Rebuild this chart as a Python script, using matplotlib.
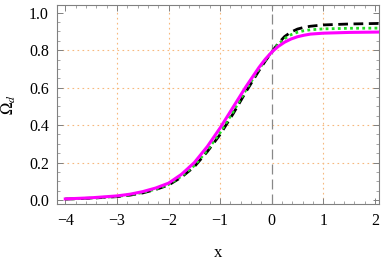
import numpy as np
import matplotlib
matplotlib.use("Agg")
import matplotlib.pyplot as plt
from matplotlib.ticker import MultipleLocator

plt.rcParams['font.family'] = ['Liberation Serif', 'DejaVu Serif']
plt.rcParams['mathtext.fontset'] = 'stix'

# values
x_mag = [-4.0, -3.5, -3.0, -2.75, -2.5, -2.25, -2.0, -1.75, -1.5, -1.25, -1.0, -0.75, -0.5, -0.25, -0.125,
         0.0, 0.125, 0.25, 0.375, 0.5, 0.625, 0.75, 1.0, 1.5, 2.1]
y_mag = [0.006, 0.012, 0.022, 0.031, 0.045, 0.064, 0.09, 0.137, 0.20, 0.285, 0.385, 0.495, 0.605, 0.707, 0.752,
         0.79, 0.82, 0.843, 0.86, 0.872, 0.88, 0.886, 0.891, 0.895, 0.897]

x_blk = [-4.0, -3.5, -3.0, -2.75, -2.5, -2.25, -2.0, -1.75, -1.5, -1.25, -1.0, -0.75, -0.5, -0.25, -0.125,
         0.0, 0.125, 0.25, 0.375, 0.5, 0.625, 0.75, 1.0, 1.5, 2.1]
y_blk = [0.005, 0.010, 0.018, 0.026, 0.038, 0.056, 0.08, 0.122, 0.178, 0.258, 0.35, 0.46, 0.578, 0.69, 0.742,
         0.79, 0.836, 0.873, 0.897, 0.913, 0.922, 0.928, 0.935, 0.940, 0.943]

x_grn = [-4.0, -3.5, -3.0, -2.75, -2.5, -2.25, -2.0, -1.75, -1.5, -1.25, -1.0, -0.75, -0.5, -0.25, -0.125,
         0.0, 0.125, 0.25, 0.375, 0.5, 0.625, 0.75, 1.0, 1.5, 2.1]
y_grn = [0.005, 0.010, 0.019, 0.028, 0.040, 0.058, 0.083, 0.127, 0.184, 0.265, 0.36, 0.47, 0.588, 0.698, 0.746,
         0.79, 0.832, 0.862, 0.883, 0.896, 0.904, 0.909, 0.914, 0.917, 0.918]

xticks = [-4, -3, -2, -1, 0, 1, 2]
yticks = [0.0, 0.2, 0.4, 0.6, 0.8, 1.0]
xgrid = [-3, -2, -1, 1]
ygrid = [0.2, 0.4, 0.6, 0.8]

fig = plt.figure(figsize=(3.82, 2.63), dpi=100)
ax = fig.add_axes([0.150, 0.223, 0.843, 0.757])

for v in xgrid:
    ax.axvline(v, color='#f7b87e', lw=0.8, ls=(0, (1.5, 3)), zorder=1)
for v in ygrid:
    ax.axhline(v, color='#f7b87e', lw=0.8, ls=(0, (1.5, 3)), zorder=1)
ax.axvline(0, color='#888888', lw=0.9, ls=(0, (8, 4)), zorder=2)

ax.plot(x_blk, y_blk, color='black', lw=2.0, ls=(0, (3.5, 2)), zorder=3)
ax.plot(x_grn, y_grn, color='#22dd22', lw=2.0, ls=(0, (1, 1.2)), zorder=4)
ax.plot(x_mag, y_mag, color='#ff00ff', lw=2.2, zorder=5)

ax.set_xlim(-4.155, 2.085)
ax.set_ylim(-0.023, 1.04)
ax.set_xticks(xticks)
ax.set_xticklabels(['\u22124', '\u22123', '\u22122', '\u22121', '0', '1', '2'])
ax.set_yticks(yticks)
ax.set_yticklabels(['0.0', '0.2', '0.4', '0.6', '0.8', '1.0'])
ax.xaxis.set_minor_locator(MultipleLocator(0.2))
ax.yaxis.set_minor_locator(MultipleLocator(0.05))

for s in ax.spines.values():
    s.set_color('#808080')
    s.set_linewidth(0.8)
ax.tick_params(which='both', direction='in', top=True, right=True, color='#808080', labelsize=11.5)
ax.tick_params(which='major', length=4, width=0.7, pad=6)
ax.tick_params(which='minor', length=2, width=0.5)

ax.set_xlabel('x', fontsize=12, labelpad=12)
ax.set_ylabel(r'$\Omega_d$', fontsize=12, labelpad=8)

fig.savefig('out.png', dpi=100)
